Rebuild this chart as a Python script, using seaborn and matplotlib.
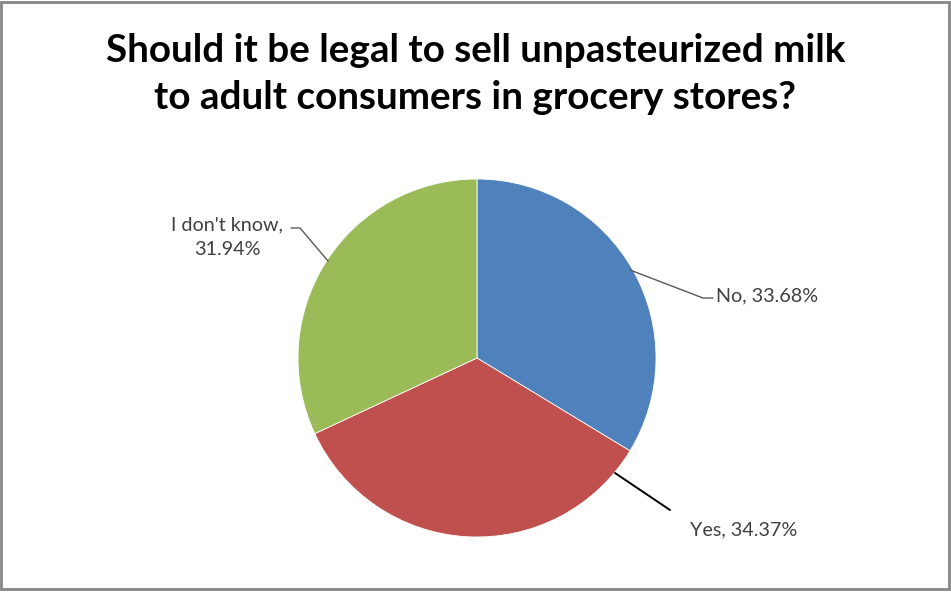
import matplotlib
matplotlib.use("Agg")
import matplotlib.pyplot as plt
import seaborn as sns
from matplotlib.patches import Rectangle

categories = ["No", "Yes", "I don't know"]
values = [33.68, 34.37, 31.94]
colors = ["#4F81BD", "#C0504D", "#9BBB59"]
title_text = "Should it be legal to sell unpasteurized milk\nto adult consumers in grocery stores?"

sns.set_theme(style="white")
plt.rcParams['font.family'] = ['Lato', 'DejaVu Sans']

W, H = 951, 592
fig = plt.figure(figsize=(W / 100, H / 100), dpi=100)
ax = fig.add_axes([0, 0, 1, 1])

cx, cy, r = 477, H - 358, 179
wedges, _ = ax.pie(values, colors=colors, startangle=90, counterclock=False,
                   center=(cx, cy), radius=r, frame=True,
                   wedgeprops=dict(edgecolor='white', linewidth=0.6))
ax.set_xlim(0, W)
ax.set_ylim(0, H)
ax.set_aspect('equal')
ax.axis('off')

def Y(y):
    return H - y

lab_color = "#404040"
fs = 14.2
# No
ax.plot([630, 703, 713], [Y(270), Y(298), Y(298)], color="#595959", lw=1)
ax.text(716, Y(296), f"{categories[0]}, {values[0]:.2f}%", ha='left', va='center',
        fontsize=fs, color=lab_color)
# Yes
ax.plot([615, 670], [Y(473), Y(510)], color="black", lw=1.4)
ax.text(744, Y(530), f"{categories[1]}, {values[1]:.2f}%", ha='center', va='center',
        fontsize=fs, color=lab_color)
# I don't know
ax.plot([291, 300, 328], [Y(228), Y(228), Y(261)], color="#595959", lw=1)
ax.text(227, Y(237), f"{categories[2]},\n{values[2]:.2f}%", ha='center', va='center',
        fontsize=fs, color=lab_color, linespacing=1.55)

fig.text(0.5, 1 - 74 / H, title_text, ha='center', va='center', fontsize=27.8,
         fontweight='bold', color='black', linespacing=1.38)

fig.patches.append(Rectangle((1 / W, 3 / H), (W - 3) / W, (H - 5) / H, transform=fig.transFigure,
                             fill=False, edgecolor='#868686', linewidth=2))

fig.savefig("out.png", dpi=100, facecolor='white')
